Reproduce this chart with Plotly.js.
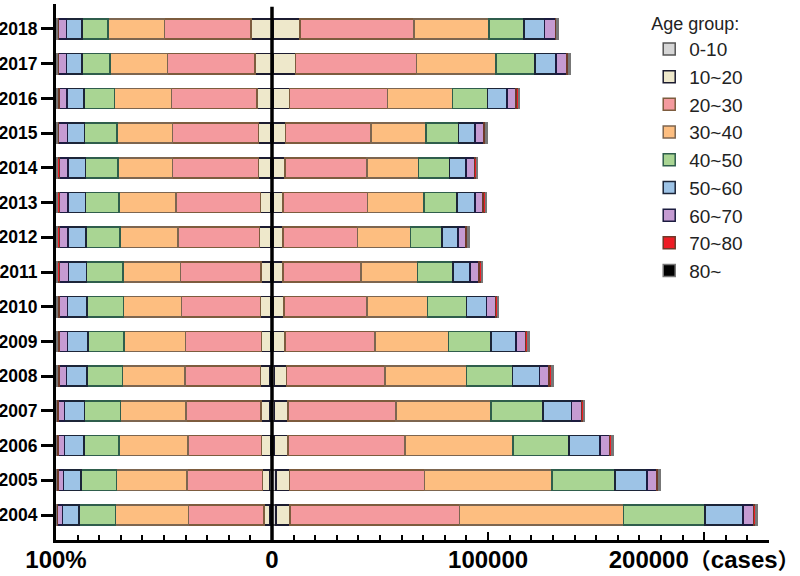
<!DOCTYPE html>
<html>
<head>
<meta charset="utf-8">
<script src="https://cdn.plot.ly/plotly-3.0.1.min.js"></script>
<style>
html,body{margin:0;padding:0;background:#fff;}
#chart{width:800px;height:576px;}
</style>
</head>
<body>
<div id="chart"></div>
<script>
// Years (bottom to top)
var years = ["2004","2005","2006","2007","2008","2009","2010","2011","2012","2013","2014","2015","2016","2017","2018"];
var groupNames = ["0-10","10~20","20~30","30~40","40~50","50~60","60~70","70~80","80~"];

// Cases per age group, per year
var age0_10  = [1900,1900,1000,1200,1200,500,500,400,400,400,400,400,400,400,400];
var age10_20 = [6400,6100,6500,6300,5600,5400,5100,4600,4800,4800,5500,5800,7600,10500,12600];
var age20_30 = [78400,62500,54000,49900,45600,41800,38300,36200,34400,38900,38000,39500,45400,55900,52800];
var age30_40 = [75900,59000,50100,44000,37700,33900,28100,26100,24500,26200,23900,25600,30100,36900,34700];
var age40_50 = [37800,29300,25900,23900,21300,19800,17900,16400,14500,15400,14400,15000,16200,17900,16200];
var age50_60 = [17500,14700,14200,13400,12300,11400,9300,8000,7500,8200,7600,7700,9000,9900,9300];
var age60_70 = [4900,4600,4600,4600,4400,4600,4200,4200,3600,3800,3800,4200,4300,5000,5100];
var age70_80 = [1000,1000,1000,800,1200,1100,1000,1000,1000,1000,1000,800,1000,1000,900];
var age80up  = [600,500,500,400,700,600,500,500,500,600,500,400,500,600,500];

var series = [age0_10, age10_20, age20_30, age30_40, age40_50, age50_60, age60_70, age70_80, age80up];

// x-axis tick labels
var leftTickText  = ["100%", "0"];
var rightTickText = ["100000", "200000<span style='font-size:22px'>\uFF08</span>cases<span style='font-size:22px'>\uFF09</span>"];

var fills   = ["#d6d6d6","#eee8cb","#f49a9e","#fdbe80","#a9d593","#9dc3e6","#c59bd2","#ee1c24","#000000"];
var borders = ["#555555","#1c1c30","#7d5c3e","#7d6650","#2f5e4c","#1c2538","#1c1c40","#6e3a2a","#777777"];

// yearly totals for the percentage panel
var totals = years.map(function(_, i){
  return series.reduce(function(s, arr){ return s + arr[i]; }, 0);
});

var traces = [];
series.forEach(function(vals, k){
  traces.push({
    type: "bar", orientation: "h",
    name: groupNames[k], legendgroup: groupNames[k],
    y: years,
    x: vals.map(function(v, i){ return v / totals[i] * 100; }),
    xaxis: "x", yaxis: "y",
    marker: {color: fills[k], line: {color: borders[k], width: 1.5}},
    showlegend: true, hoverinfo: "name+x+y"
  });
});
series.forEach(function(vals, k){
  traces.push({
    type: "bar", orientation: "h",
    name: groupNames[k], legendgroup: groupNames[k],
    y: years, x: vals,
    xaxis: "x2", yaxis: "y",
    marker: {color: fills[k], line: {color: borders[k], width: 1.5}},
    showlegend: false, hoverinfo: "name+x+y"
  });
});

var FONT = "Liberation Sans, Arial, Noto Sans CJK SC, sans-serif";
var split = 216 / 713;

var layout = {
  width: 800, height: 576,
  margin: {l: 56, r: 31, t: 4, b: 36, pad: 0},
  paper_bgcolor: "#fff", plot_bgcolor: "#fff",
  barmode: "stack", bargap: 0.42,
  font: {family: FONT, color: "#000"},
  xaxis: {
    domain: [0, split], range: [100, 0], anchor: "y",
    showgrid: false, zeroline: false,
    showline: true, linecolor: "#000", linewidth: 3,
    tickmode: "array", tickvals: [100, 0], ticktext: leftTickText,
    ticks: "inside", ticklen: 8, tickwidth: 2, tickcolor: "#000",
    minor: {tickmode: "linear", tick0: 0, dtick: 10, ticks: "inside", ticklen: 5, tickwidth: 2, tickcolor: "#000"},
    tickfont: {family: FONT, size: 24, weight: "bold", color: "#000"},
    ticklabeloverflow: "allow", ticklabelstandoff: -4,
    fixedrange: true
  },
  xaxis2: {
    domain: [split, 1], range: [0, 230000], anchor: "y",
    showgrid: false, zeroline: false,
    showline: true, linecolor: "#000", linewidth: 3,
    tickmode: "array", tickvals: [100000, 200000], ticktext: rightTickText,
    ticks: "inside", ticklen: 8, tickwidth: 2, tickcolor: "#000",
    minor: {tickmode: "linear", tick0: 0, dtick: 10000, ticks: "inside", ticklen: 5, tickwidth: 2, tickcolor: "#000"},
    tickfont: {family: FONT, size: 24, weight: "bold", color: "#000"},
    ticklabeloverflow: "allow", ticklabelstandoff: -4,
    fixedrange: true
  },
  yaxis: {
    type: "category", range: [-0.72, 14.72], anchor: "x",
    showgrid: false, zeroline: false,
    showline: true, linecolor: "#000", linewidth: 3,
    ticks: "outside", ticklen: 12, tickwidth: 3, tickcolor: "#000",
    tickfont: {family: FONT, size: 17.5, weight: "bold", color: "#000"},
    fixedrange: true
  },
  shapes: [{
    type: "line", xref: "paper", yref: "paper",
    x0: split, x1: split, y0: 0, y1: 0.995,
    line: {color: "#000", width: 3.5}, layer: "above"
  }],
  legend: {
    x: 0.832, y: 0.995, xanchor: "left", yanchor: "top",
    traceorder: "normal", bgcolor: "rgba(0,0,0,0)",
    title: {text: "Age group:", font: {family: FONT, size: 18, color: "#222"}},
    font: {family: FONT, size: 19, color: "#222"}
  },
  showlegend: true
};

Plotly.newPlot("chart", traces, layout, {displayModeBar: false, staticPlot: true});
</script>
</body>
</html>
